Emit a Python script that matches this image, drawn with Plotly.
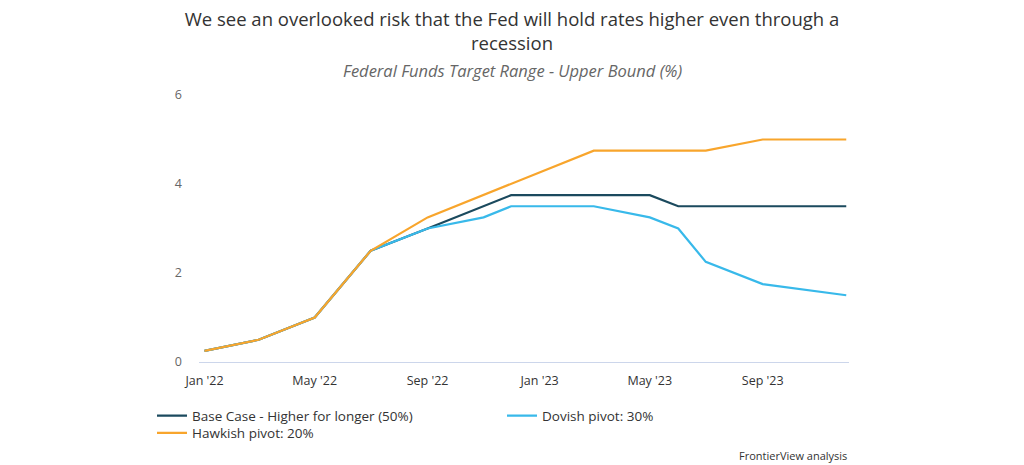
import plotly.graph_objects as go

dates = ["2022-01-01", "2022-03-01", "2022-05-01", "2022-07-01", "2022-09-01",
         "2022-11-01", "2022-12-01", "2023-03-01", "2023-05-01", "2023-06-01",
         "2023-07-01", "2023-09-01", "2023-12-01"]
base_case = [0.25, 0.5, 1.0, 2.5, 3.0, 3.5, 3.75, 3.75, 3.75, 3.5, 3.5, 3.5, 3.5]
dovish = [0.25, 0.5, 1.0, 2.5, 3.0, 3.25, 3.5, 3.5, 3.25, 3.0, 2.25, 1.75, 1.5]
hawkish = [0.25, 0.5, 1.0, 2.5, 3.25, 3.75, 4.0, 4.75, 4.75, 4.75, 4.75, 5.0, 5.0]

series_names = ["Base Case - Higher for longer (50%)", "Dovish pivot: 30%", "Hawkish pivot: 20%"]
colors = ["#1b4a5e", "#38b9ea", "#f8a52c"]
legends = ["legend", "legend", "legend2"]

fig = go.Figure()
for name, vals, col, lg in zip(series_names, [base_case, dovish, hawkish], colors, legends):
    fig.add_trace(go.Scatter(x=dates, y=vals, name=name, mode="lines", legend=lg,
                             line=dict(color=col, width=2.2)))

W, H = 1016, 457  # page body adds an 8px margin

fig.update_layout(
    width=W, height=H,
    margin=dict(l=191, r=175, t=87, b=103, autoexpand=False),
    paper_bgcolor="white", plot_bgcolor="white",
    font=dict(family="Open Sans", color="#333333"),
    title=dict(text="We see an overlooked risk that the Fed will hold rates higher even through a<br>recession",
               xref="container", yref="container",
               x=504 / W, xanchor="center", y=1 - 18 / H, yanchor="top",
               font=dict(size=18.5, color="#333333", family="Open Sans")),
    showlegend=True,
    legend=dict(orientation="h", x=-0.0723, xanchor="left", y=-0.144, yanchor="top",
                entrywidth=305, font=dict(size=13.5, color="#333333"),
                traceorder="normal", itemwidth=30, bgcolor="rgba(0,0,0,0)"),
    legend2=dict(orientation="h", x=-0.0723, xanchor="left", y=-0.208, yanchor="top",
                 font=dict(size=13.5, color="#333333"), itemwidth=30,
                 bgcolor="rgba(0,0,0,0)"),
    xaxis=dict(type="date", range=["2021-12-26", "2023-12-04"],
               tick0="2022-01-01", dtick="M4", tickformat="%b '%y",
               showgrid=False, showline=True, linecolor="#ccd6eb", linewidth=1,
               ticks="", zeroline=False, ticklabelstandoff=7,
               tickfont=dict(size=12.5, color="#333333")),
    yaxis=dict(range=[0, 6], dtick=2, showgrid=False, zeroline=False,
               showline=False, ticks="", ticklabelstandoff=16,
               tickfont=dict(size=12.5, color="#666666")),
)

fig.add_annotation(text="<i>Federal Funds Target Range - Upper Bound (%)</i>",
                   xref="paper", yref="paper", x=(504 - 191) / 650, y=1.0, yanchor="middle",
                   xanchor="center", yshift=25, showarrow=False,
                   font=dict(size=16.5, color="#666666", family="Open Sans"))
fig.add_annotation(text="FrontierView analysis", xref="paper", yref="paper",
                   x=1.0, xanchor="right", y=0, yanchor="middle", yshift=-93,
                   showarrow=False, font=dict(size=11, color="#333333"))

fig.write_html("out.html")
